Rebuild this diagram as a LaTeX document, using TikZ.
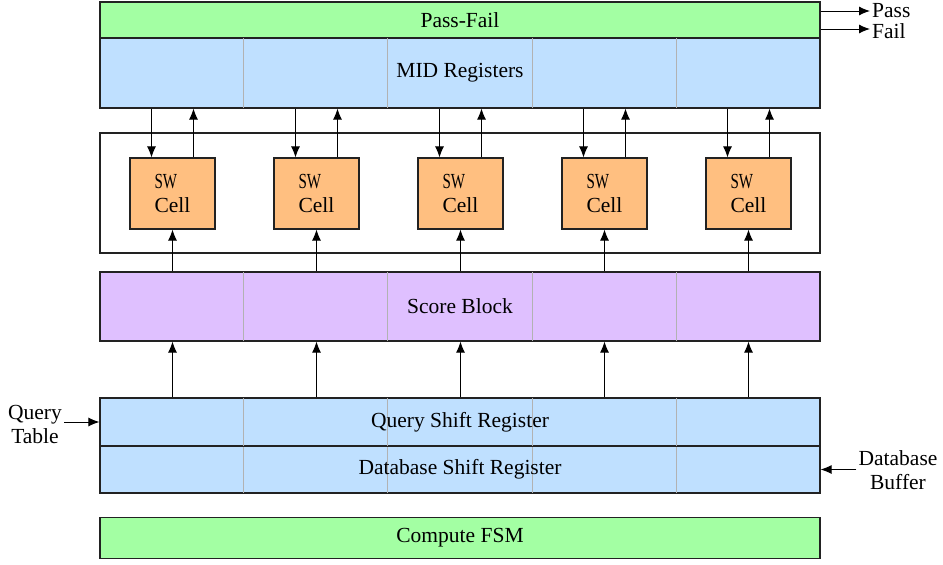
\documentclass[tikz,border=0pt]{standalone}
\usepackage{fontspec}
\setmainfont{Liberation Serif}
\usetikzlibrary{arrows.meta,calc}
\definecolor{pfgreen}{HTML}{A3FFA3}
\definecolor{regblue}{HTML}{BFE0FF}
\definecolor{scorepurple}{HTML}{DFC0FF}
\definecolor{cellorange}{HTML}{FFBF80}
\definecolor{edge}{HTML}{222222}
\begin{document}
\begin{tikzpicture}[x=1pt,y=-1pt,
  box/.style={draw=edge,line width=1.1pt,minimum width=720pt,inner sep=0pt,font=\fontsize{21.5}{24}\selectfont},
  cellbox/.style={draw=edge,line width=1.1pt,fill=cellorange,minimum width=85pt,minimum height=71pt,inner sep=0pt,align=left,font=\fontsize{21.5}{24}\selectfont},
  lbl/.style={align=center,inner sep=2pt,font=\fontsize{21.5}{24}\selectfont},
  arr/.style={-{Latex[length=11pt,width=9pt]},line width=1pt,draw=black},
  divider/.style={draw=black!30,line width=1pt}]
\useasboundingbox (0,0) rectangle (943,565);
% top blocks
\node[box,fill=pfgreen,minimum height=36pt] (pf) at (460,20) {Pass-Fail};
\node[box,fill=regblue,minimum height=70pt] (mid) at (460,73) {};
\foreach \d in {144,288,433,577}
  \draw[divider] ([xshift=\d pt]mid.north west) -- ([xshift=\d pt]mid.south west);
\node[font=\fontsize{21.5}{24}\selectfont] at (mid.center) {MID Registers};
\draw[edge,line width=1.1pt] (mid.north west) rectangle (mid.south east);
% cell frame
\node[draw=edge,line width=1.1pt,minimum width=720pt,minimum height=120pt,inner sep=0pt] (frame) at (460,193) {};
% score block
\node[box,fill=scorepurple,minimum height=69pt] (score) at (460,306.5) {};
\foreach \d in {144,288,433,577}
  \draw[divider] ([xshift=\d pt]score.north west) -- ([xshift=\d pt]score.south west);
\node[font=\fontsize{21.5}{24}\selectfont] at (score.center) {Score Block};
\draw[edge,line width=1.1pt] (score.north west) rectangle (score.south east);
% shift registers
\node[box,fill=regblue,minimum height=48pt] (qsr) at (460,422) {};
\node[box,fill=regblue,minimum height=47pt] (dsr) at (460,469.5) {};
\foreach \d in {144,288,433,577}
  \draw[divider] ([xshift=\d pt]qsr.north west) -- ([xshift=\d pt]dsr.south west);
\node[font=\fontsize{21.5}{24}\selectfont] at (qsr.center) {Query Shift Register};
\node[font=\fontsize{21.5}{24}\selectfont] at (dsr.center) {Database Shift Register};
\draw[edge,line width=1.1pt] (qsr.north west) rectangle (dsr.south east);
\draw[edge,line width=1.1pt] (qsr.south west) -- (qsr.south east);
% compute FSM
\node[box,fill=pfgreen,minimum height=41pt] (fsm) at (460,538) {Compute FSM};
% cells and arrows
\foreach \i in {1,...,5}{
  \node[cellbox] (c\i) at ({172.5+144*(\i-1)},193.5) {\scalebox{0.7}[1]{SW}\\Cell};
  \coordinate (cd\i) at ($(c\i.north)+(-21,0)$);
  \coordinate (cu\i) at ($(c\i.north)+(21,0)$);
  \draw[arr] (cd\i |- mid.south) -- (cd\i);
  \draw[arr] (cu\i) -- (cu\i |- mid.south);
  \draw[arr] (c\i.south |- score.north) -- (c\i.south);
  \draw[arr] (c\i.south |- qsr.north) -- (c\i.south |- score.south);
}
% side labels
\node[lbl,anchor=west] (passl) at (870,11) {Pass};
\node[lbl,anchor=west] (faill) at (870,31) {Fail};
\draw[arr] (pf.east |- passl.west) -- (passl.west);
\draw[arr] ([yshift=-9pt]pf.east) -- ([yshift=-9pt]pf.east -| faill.west);
\node[lbl] (qt) at (35,424) {Query\\Table};
\draw[arr] (qt.east |- qsr.west) -- (qsr.west);
\node[lbl] (db) at (898,470) {Database\\Buffer};
\draw[arr] (db.west |- dsr.east) -- (dsr.east);
\end{tikzpicture}
\end{document}
